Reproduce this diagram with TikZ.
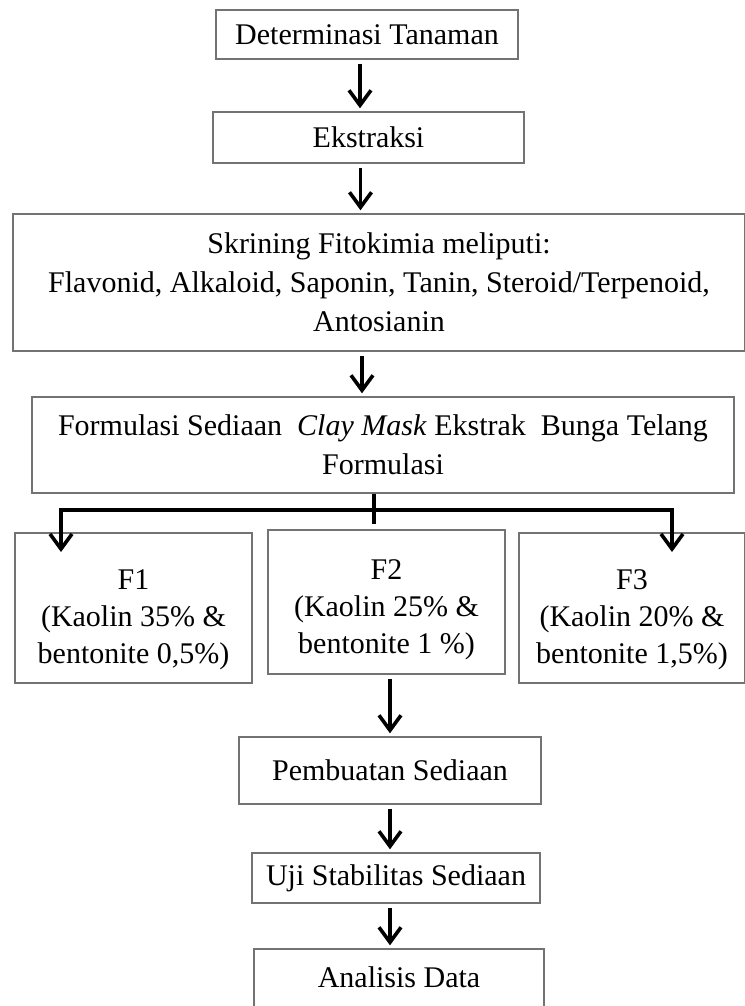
\documentclass[tikz,border=0pt]{standalone}
\usepackage{fontspec}
\setmainfont{Liberation Serif}
\usetikzlibrary{calc, arrows.meta, positioning}

\tikzset{
  box/.style={draw=black!55, line width=0.7pt, align=center, inner sep=0pt,
    font=\fontsize{15}{19.5}\selectfont},
  fbox/.style={box, font=\fontsize{15}{18.5}\selectfont},
  flow/.style={line width=1.8pt, -{Straight Barb[length=7.5pt,width=11pt]},
    shorten <=2pt, shorten >=1.5pt},
  stem/.style={line width=1.8pt}
}
\newcommand{\lift}[1]{\rule{0pt}{#1}}

\begin{document}
\begin{tikzpicture}[x=0.5pt, y=-0.5pt]
  \useasboundingbox (0,0) rectangle (744,1006);

  %► Main chain of boxes
  \node[box, minimum width=151pt, minimum height=24.5pt] (det) at (367,34.5) {Determinasi Tanaman};
  \node[box, minimum width=155.5pt, minimum height=25.5pt] (eks) at (368.5,137.5) {Ekstraksi};
  \node[box, minimum width=366pt, minimum height=68.5pt] (skr) at (379,282.5)
    {Skrining Fitokimia meliputi:\\
     Flavonid, Alkaloid, Saponin, Tanin, Steroid/Terpenoid,\\
     Antosianin};
  \node[box, minimum width=351pt, minimum height=48pt] (frm) at (383,445)
    {Formulasi Sediaan\ \ \textit{Clay Mask} Ekstrak\ \ Bunga Telang\\
     Formulasi};

  %► The three formulas
  \node[fbox, minimum width=118.5pt, minimum height=75pt] (f1) at (133.5,608)
    {\lift{22pt}F1\\ (Kaolin 35\% \&\\ bentonite 0,5\%)};
  \node[fbox, minimum width=118.5pt, minimum height=72pt] (f2) at (386.5,602)
    {\lift{18pt}F2\\ (Kaolin 25\% \&\\ bentonite 1 \%)};
  \node[fbox, minimum width=113pt, minimum height=75pt] (f3) at (632,608)
    {\lift{22pt}F3\\ (Kaolin 20\% \&\\ bentonite 1,5\%)};

  %► Lower chain
  \node[box, minimum width=151pt, minimum height=33.5pt] (pem) at (390,770.5) {Pembuatan Sediaan};
  \node[box, minimum width=144pt, minimum height=25pt] (uji) at (396,878) {Uji Stabilitas Sediaan};
  \node[box, minimum width=145pt, minimum height=36pt, text depth=8pt] (ana) at (399,985) {Analisis Data};

  %► Branch points
  \coordinate (hub)  at ($(frm.south)+(-9,16)$);
  \coordinate (f1in) at (61,552);
  \coordinate (f3in) at (672,552);

  %► Arrows
  \draw[flow] ([xshift=-3.5pt]det.south) -- ([xshift=-3.5pt]det.south |- eks.north);
  \draw[flow] ([xshift=-4pt]eks.south) -- ([xshift=-4pt]eks.south |- skr.north);
  \draw[flow] (skr.south -| frm.north) ++(-21,0) coordinate (s3) -- (s3 |- frm.north);
  \draw[stem, shorten >=2.5pt] (frm.south -| hub) -- (hub |- f2.north);
  \draw[flow, shorten <=0pt, shorten >=0pt] (hub) -| (f1in);
  \draw[flow, shorten <=0pt, shorten >=0pt] (hub) -| (f3in);
  \draw[flow] (f2.south -| pem.north) -- (pem.north);
  \draw[flow] (pem.south) -- (pem.south |- uji.north);
  \draw[flow] (uji.south -| pem.north) -- (ana.north -| pem.north);
\end{tikzpicture}
\end{document}
